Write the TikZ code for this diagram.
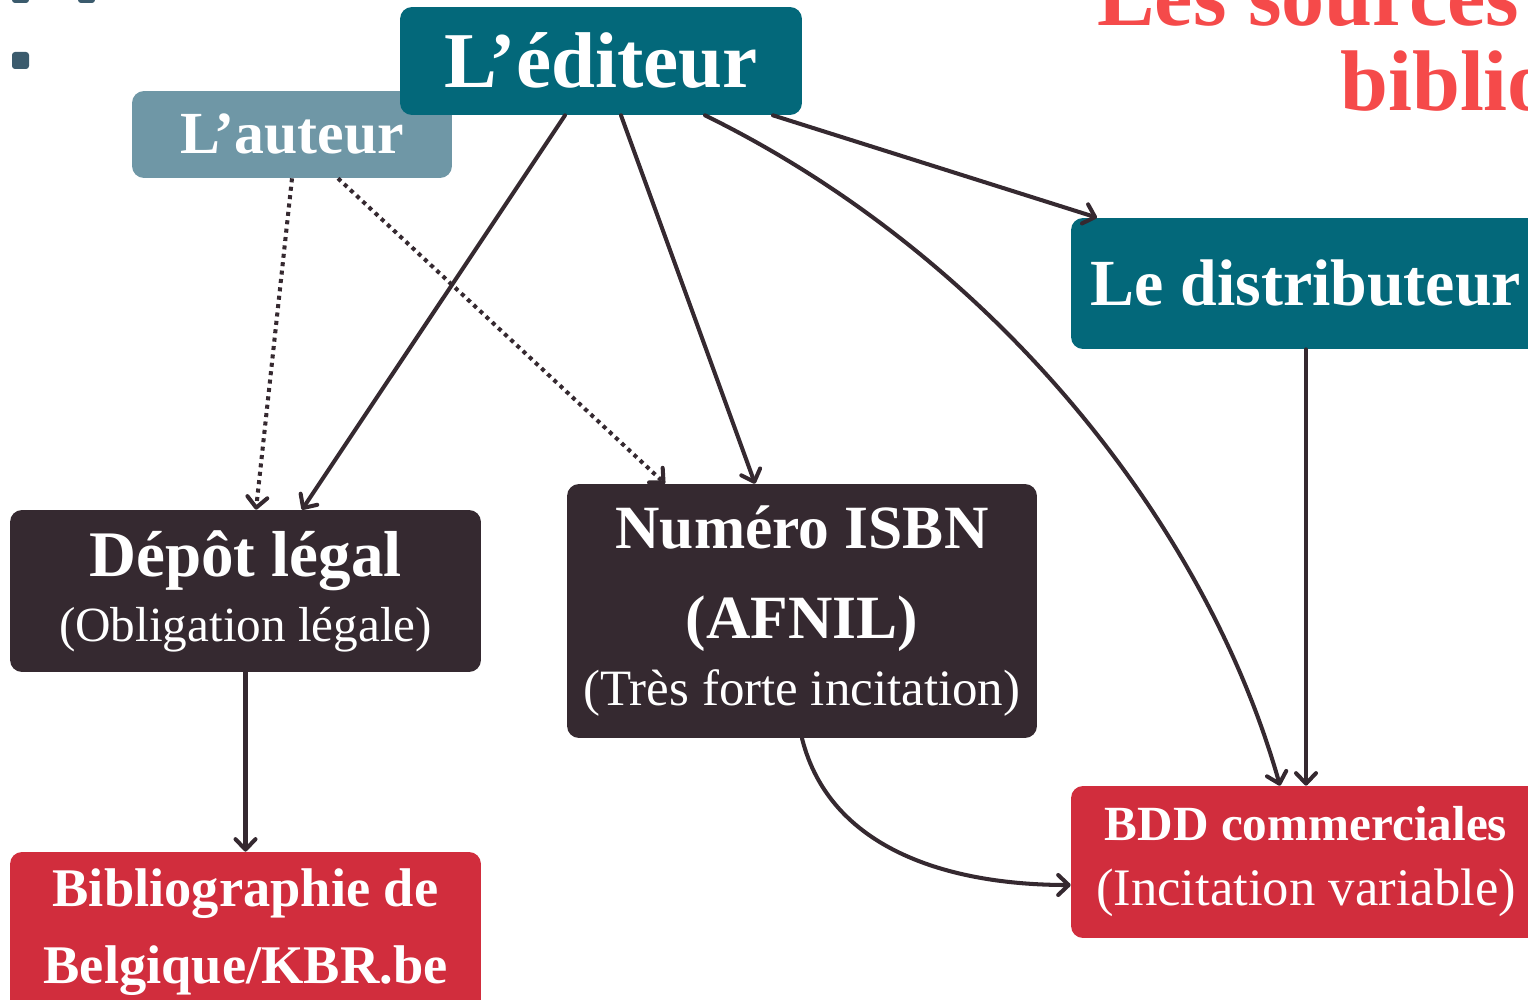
\documentclass[tikz,border=0pt]{standalone}
\usepackage{fontspec}
\setmainfont{Liberation Serif}
\usetikzlibrary{arrows.meta}
\definecolor{tealbox}{HTML}{03687A}
\definecolor{greybox}{HTML}{6F97A6}
\definecolor{darkbox}{HTML}{352930}
\definecolor{redbox}{HTML}{D12D3D}
\definecolor{titlered}{HTML}{F54A4A}
\definecolor{bulletcol}{HTML}{3B5B6D}
\begin{document}
\begin{tikzpicture}[
  x=0.02cm, y=-0.02cm,
  box/.style={rectangle, rounded corners=0.24cm, text=white, align=center, inner sep=0pt},
  tealnode/.style={box, fill=tealbox},
  greynode/.style={box, fill=greybox},
  darknode/.style={box, fill=darkbox},
  rednode/.style={box, fill=redbox},
  title/.style={anchor=base west, text=titlered, font=\fontsize{49}{49}\selectfont\bfseries, inner sep=0pt},
  arrow/.style={-{Straight Barb[length=2.1mm, width=4mm, round]}, line width=2.3pt, draw=darkbox, line cap=round},
  dotarrow/.style={arrow, line cap=butt, dash pattern=on 2.3pt off 2.5pt}
]
\useasboundingbox (0,0) rectangle (1528,1000);
\clip (0,0) rectangle (1528,1000);

% Bullets and title
\fill[bulletcol, rounded corners=0.06cm] (12,-14) rectangle (29,3);
\fill[bulletcol, rounded corners=0.06cm] (78,-14) rectangle (95,3);
\fill[bulletcol, rounded corners=0.06cm] (12,52) rectangle (29,69);
\node[title] (title1) at (1097,26) {Les sources};
\node[title] (title2) at (1340,111) {biblio};

% Sources
\node[greynode, minimum width=6.4cm, minimum height=1.74cm, font=\fontsize{34}{34}\selectfont\bfseries] (auteur) at (292,134.5) {L’auteur};
\node[tealnode, minimum width=8.04cm, minimum height=2.16cm, font=\fontsize{45}{45}\selectfont\bfseries] (editeur) at (601,61) {L’éditeur};
\node[tealnode, minimum width=9.4cm, minimum height=2.62cm, font=\fontsize{37.5}{37.5}\selectfont\bfseries] (distrib) at (1306,283.5) {Le distributeur};

% Registrations
\node[darknode, minimum width=9.42cm, minimum height=3.24cm, font=\fontsize{28}{37}\selectfont] (depot) at (245.5,591)
  {{\fontsize{37}{37}\selectfont\bfseries Dépôt légal}\\(Obligation légale)};
\node[darknode, minimum width=9.4cm, minimum height=5.08cm, font=\fontsize{29}{38}\selectfont] (isbn) at (802,611)
  {{\fontsize{35}{35}\selectfont\bfseries Numéro ISBN}\\[13pt]{\fontsize{35}{35}\selectfont\bfseries (AFNIL)}\\(Très forte incitation)};

% Databases
\node[rednode, minimum width=9.42cm, minimum height=3.2cm, font=\fontsize{31}{44}\selectfont\bfseries] (biblio) at (245.5,932)
  {Bibliographie de\\Belgique/KBR.be};
\node[rednode, minimum width=9.4cm, minimum height=3.04cm, font=\fontsize{30}{37}\selectfont] (bdd) at (1306,862)
  {{\fontsize{28}{28}\selectfont\bfseries BDD commerciales}\\(Incitation variable)};

% Arrows
\draw[dotarrow] (auteur.south -| 292,0) -- (depot.north -| 256,0);
\draw[dotarrow] (auteur.south -| 338,0) -- (isbn.north -| 665,0);
\draw[arrow] (editeur.south -| 565,0) -- (depot.north -| 302,0);
\draw[arrow] (editeur.south -| 621,0) -- (isbn.north -| 755,0);
\draw[arrow] (editeur.south -| 705,0) .. controls (990,255) and (1205,520) .. (bdd.north -| 1280,0);
\draw[arrow] (editeur.south -| 773,0) -- (distrib.north -| 1097,0);
\draw[arrow] (distrib) -- (bdd);
\draw[arrow] (depot) -- (biblio);
\draw[arrow] (isbn.south) .. controls (830,850) and (950,885) .. (bdd.west |- 0,885);

\end{tikzpicture}
\end{document}
